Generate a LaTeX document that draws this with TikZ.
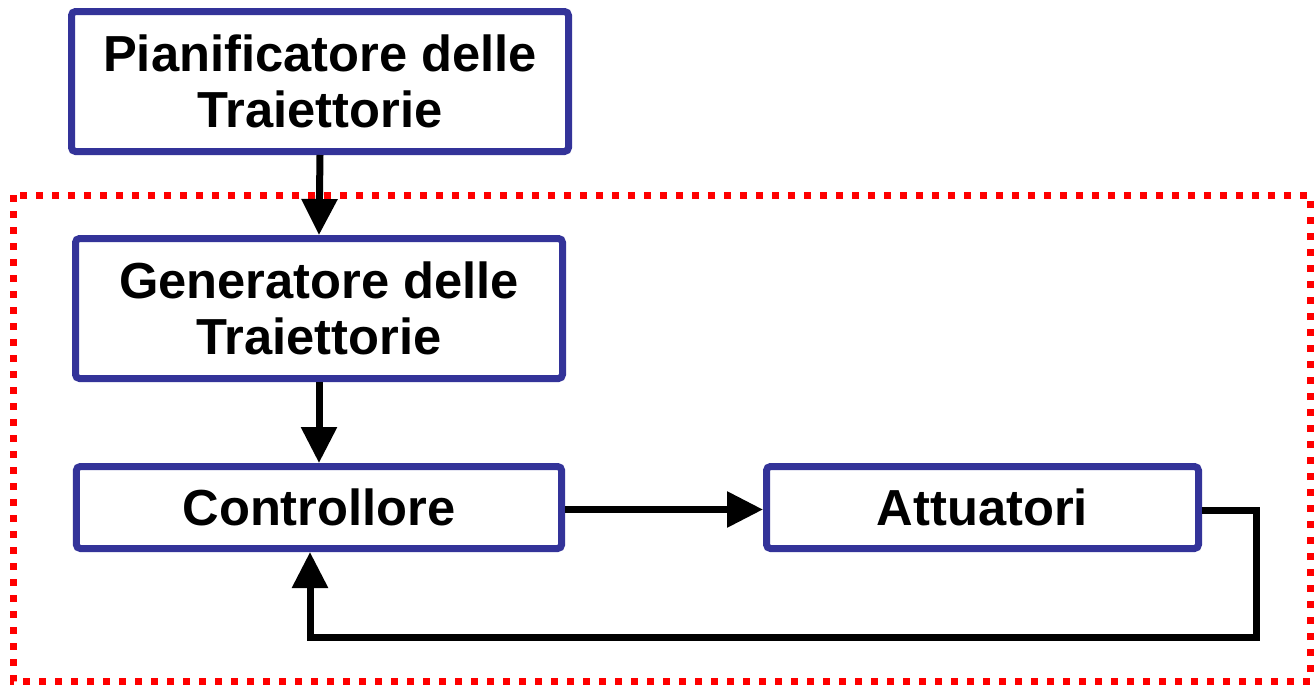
\documentclass[tikz,border=0pt]{standalone}
\usepackage{fontspec}
\setmainfont{Liberation Sans}
\usetikzlibrary{arrows.meta,positioning}
\definecolor{boxblue}{HTML}{333399}
\definecolor{looprd}{HTML}{FF0000}

\begin{document}
\begin{tikzpicture}[x=0.75pt,y=0.75pt,yscale=-1,xscale=1,
  block/.style={draw=boxblue, line width=5.25pt, rounded corners=3pt, fill=white,
    align=center, inner sep=0pt, font=\fontsize{38}{41.5}\selectfont\bfseries},
  flow/.style={line width=5.25pt, -{Triangle[length=27pt,width=26pt]}}]
\useasboundingbox (0,0) rectangle (1314,686);

%Dotted frame 
\draw [looprd, line width=5.25pt, dash pattern=on 5.25pt off 6.75pt] (13,195) rectangle (1310,681) ;

%Blocks 
\node [block, minimum width=372.75pt, minimum height=105pt] (pian) at (320,81.5) {Pianificatore delle\\Traiettorie};
\node [block, minimum width=365.25pt, minimum height=105pt] (gen) at (319,308.5) {Generatore delle\\Traiettorie};
\node [block, minimum width=364pt, minimum height=61.5pt] (ctrl) at (319,507.5) {Controllore};
\node [block, minimum width=324pt, minimum height=61.5pt] (att) at (982.5,507.5) {Attuatori};

%Arrows 
\draw [flow] (pian.south) -- (gen.north) ;
\draw [flow] ([yshift=1.5pt]ctrl.east) -- ([yshift=1.5pt]att.west) ;
\draw [flow] (gen.south) -- (ctrl.north) ;

%Feedback 
\coordinate (fb) at (1256,637) ;
\draw [flow] ([yshift=2.5pt]att.east) -| (fb) -| ([xshift=-6.75pt]ctrl.south) ;

\end{tikzpicture}
\end{document}
